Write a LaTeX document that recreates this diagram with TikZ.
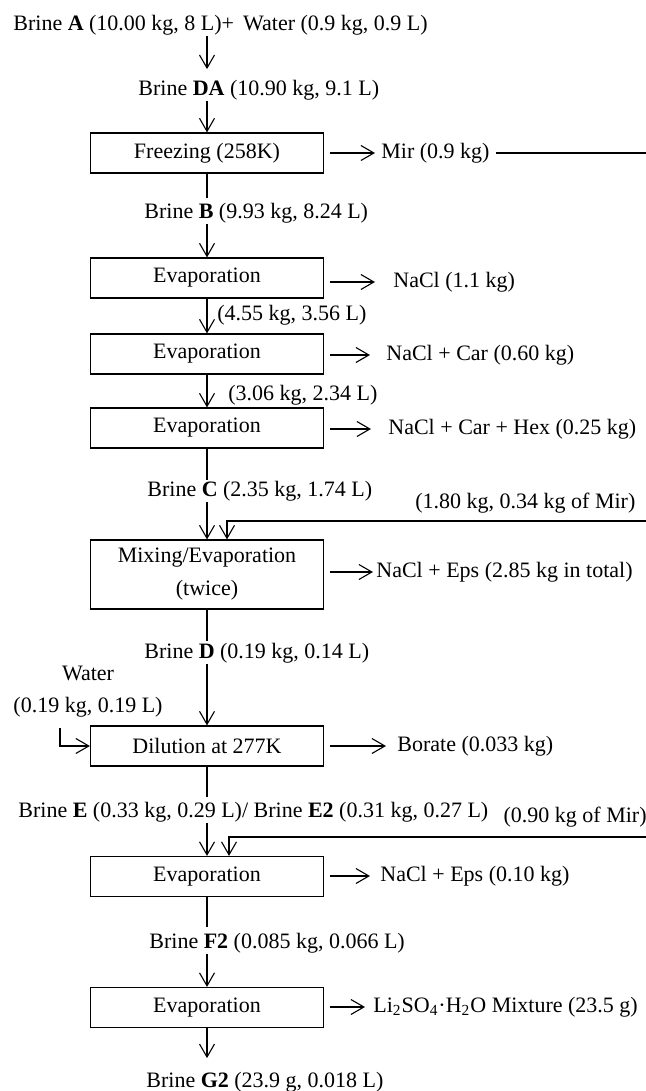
\documentclass[tikz,border=0pt]{standalone}
\usepackage{fontspec}
\setmainfont{Liberation Serif}
\usetikzlibrary{arrows.meta,positioning,calc}

\begin{document}
\begin{tikzpicture}[x=0.5pt,y=-0.5pt,>={Straight Barb[length=6.5pt,width=7.5pt]},
	every node/.style={font=\fontsize{11}{16.5}\selectfont},
	unit/.style={draw,line width=0.6pt,minimum width=116.5pt,minimum height=20pt,inner sep=0pt,align=center},
	lbl/.style={anchor=west,inner sep=0pt,text height=8pt,text depth=2.5pt},
	flow/.style={->,line width=0.55pt},
	pipe/.style={line width=0.9pt},
	side/.style={->,line width=0.55pt,shorten <=3pt}]
	\useasboundingbox (0,0) rectangle (646,1091);
	\node[unit] (freeze) at (207,153) {Freezing (258K)};
	\node[unit] (evapA) at (207,278) {Evaporation};
	\node[unit] (evapB) at (207,354) {Evaporation};
	\node[unit] (evapC) at (207,428) {Evaporation};
	\node[unit,minimum height=34.5pt] (mix) at (207,574.5) {Mixing/Evaporation\\(twice)};
	\node[unit] (dilute) at (207,746) {Dilution at 277K};
	\node[unit] (evapD) at (207,876.5) {Evaporation};
	\node[unit] (evapE) at (207,1007.5) {Evaporation};
	\node[lbl] (brineA) at (13,25) {Brine \textbf{A} (10.00 kg, 8 L)+\hspace{4.5pt}Water (0.9 kg, 0.9 L)};
	\node[lbl] (brineDA) at (138,90) {Brine \textbf{DA} (10.90 kg, 9.1 L)};
	\node[lbl] (mir) at (381,153) {Mir (0.9 kg)};
	\node[lbl] (brineB) at (144,213) {Brine \textbf{B} (9.93 kg, 8.24 L)};
	\node[lbl] (saltA) at (393,282) {NaCl (1.1 kg)};
	\node[lbl] (lblA) at (217,315) {(4.55 kg, 3.56 L)};
	\node[lbl] (saltB) at (386,355) {NaCl + Car (0.60 kg)};
	\node[lbl] (lblB) at (228,395) {(3.06 kg, 2.34 L)};
	\node[lbl] (saltC) at (388,429) {NaCl + Car + Hex (0.25 kg)};
	\node[lbl] (brineC) at (147,491) {Brine \textbf{C} (2.35 kg, 1.74 L)};
	\node[lbl] (recA) at (415,503) {(1.80 kg, 0.34 kg of Mir)};
	\node[lbl] (saltD) at (376,572) {NaCl + Eps (2.85 kg in total)};
	\node[lbl] (brineD) at (144,653) {Brine \textbf{D} (0.19 kg, 0.14 L)};
	\node[align=center,inner sep=0pt,font=\fontsize{11}{16}\selectfont] (water) at (88,692) {Water\\(0.19 kg, 0.19 L)};
	\node[lbl] (borate) at (397,746) {Borate (0.033 kg)};
	\node[lbl] (brineE) at (18,812) {Brine \textbf{E} (0.33 kg, 0.29 L)/ Brine \textbf{E2} (0.31 kg, 0.27 L)};
	\node[lbl,anchor=east] (recB) at (647,817) {(0.90 kg of Mir)};
	\node[lbl] (saltE) at (380,876) {NaCl + Eps (0.10 kg)};
	\node[lbl] (brineF) at (149,943) {Brine \textbf{F2} (0.085 kg, 0.066 L)};
	\node[lbl] (li) at (373,1007) {Li\textsubscript{2}SO\textsubscript{4}·H\textsubscript{2}O Mixture (23.5 g)};
	\node[lbl] (brineG) at (146,1082) {Brine \textbf{G2} (23.9 g, 0.018 L)};
	\coordinate (edgeM) at (646,153);\coordinate (edgeA) at (646,521);\coordinate (edgeB) at (646,837);
	\draw[flow,shorten >=5pt] (brineA.south -| freeze.north) -- (brineDA.north -| freeze.north);
	\draw[flow] (brineDA.south -| freeze.north) -- (freeze.north);
	\draw[pipe,shorten >=2pt] (freeze.south) -- (brineB.north -| freeze.south);
	\draw[flow] (brineB.south -| evapA.north) -- (evapA.north);
	\draw[flow] (evapA.south) -- (evapB.north);\draw[flow] (evapB.south) -- (evapC.north);
	\draw[pipe] (evapC.south) -- (brineC.north -| evapC.south);
	\draw[flow] (brineC.south -| mix.north) -- (mix.north);\draw[flow] (edgeA) -| ([xshift=10pt]mix.north);
	\draw[pipe,shorten >=0.5pt] (mix.south) -- (brineD.north -| mix.south);
	\draw[flow] (brineD.south -| dilute.north) -- (dilute.north);
	\draw[flow,shorten <=5pt] ([xshift=-14pt]water.south) |- (dilute.west);
	\draw[pipe,shorten >=2pt] (dilute.south) -- (brineE.north -| dilute.south);
	\draw[flow] (brineE.south -| evapD.north) -- (evapD.north);\draw[flow] (edgeB) -| ([xshift=11pt]evapD.north);
	\draw[pipe,shorten >=2.5pt] (evapD.south) -- (brineF.north -| evapD.south);
	\draw[flow] (brineF.south -| evapE.north) -- (evapE.north);
	\draw[flow,shorten >=6.5pt] (evapE.south) -- (brineG.north -| evapE.south);
	\draw[pipe,line width=0.6pt,shorten <=3pt] (mir.east) -- (edgeM);
	\draw[side,shorten >=3pt] (freeze.east |- mir.west) -- (mir.west);
	\draw[side,shorten >=9pt] (evapA.east |- saltA.west) -- (saltA.west);
	\draw[side,shorten >=8pt] (evapB.east |- saltB.west) -- (saltB.west);
	\draw[side,shorten >=8.5pt] (evapC.east |- saltC.west) -- (saltC.west);
	\draw[side,shorten >=1.5pt] (mix.east |- saltD.west) -- (saltD.west);
	\draw[side,shorten >=5.5pt] (dilute.east |- borate.west) -- (borate.west);
	\draw[side,shorten >=5pt] (evapD.east |- saltE.west) -- (saltE.west);
	\draw[side,shorten >=4pt] (evapE.east |- li.west) -- (li.west);
\end{tikzpicture}
\end{document}
